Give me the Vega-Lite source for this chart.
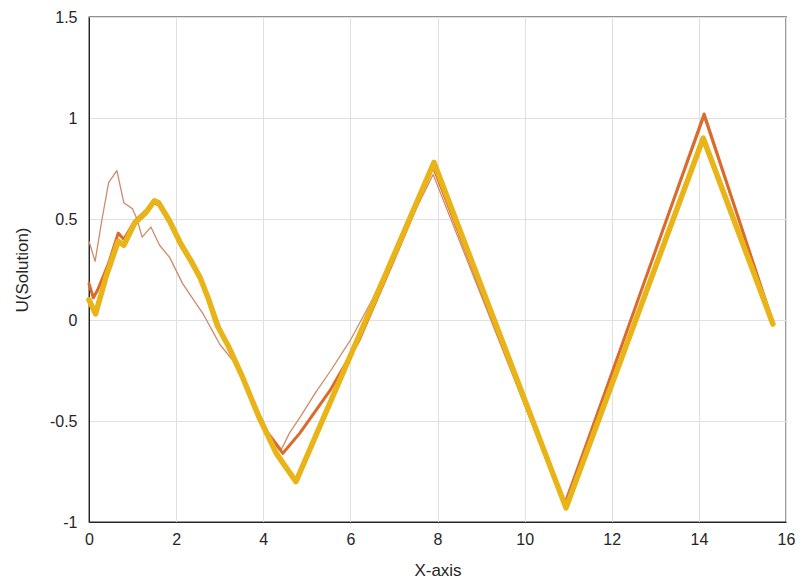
{
  "$schema": "https://vega.github.io/schema/vega-lite/v6.json",
  "width": 697,
  "height": 505,
  "autosize": {"type": "none"},
  "padding": {"left": 89, "top": 17, "right": 17, "bottom": 61},
  "background": "white",
  "config": {
    "font": "Liberation Sans",
    "view": {"stroke": "#262626", "strokeWidth": 1.3},
    "axis": {
      "grid": true,
      "gridColor": "#e0e0e0",
      "gridWidth": 1,
      "domainColor": "#262626",
      "tickColor": "#262626",
      "labelColor": "#262626",
      "titleColor": "#262626",
      "labelFontSize": 16,
      "titleFontSize": 17,
      "titleFontWeight": "normal",
      "tickSize": 0
    }
  },
  "data": {
    "values": [
      {"s": "C", "x": 0, "y": 0.39}, {"s": "C", "x": 0.14, "y": 0.29}, {"s": "C", "x": 0.3, "y": 0.5},
      {"s": "C", "x": 0.45, "y": 0.68}, {"s": "C", "x": 0.64, "y": 0.74}, {"s": "C", "x": 0.8, "y": 0.58},
      {"s": "C", "x": 1.0, "y": 0.55}, {"s": "C", "x": 1.1, "y": 0.5}, {"s": "C", "x": 1.22, "y": 0.41},
      {"s": "C", "x": 1.42, "y": 0.46}, {"s": "C", "x": 1.62, "y": 0.37}, {"s": "C", "x": 1.85, "y": 0.31},
      {"s": "C", "x": 2.15, "y": 0.18}, {"s": "C", "x": 2.4, "y": 0.1}, {"s": "C", "x": 2.62, "y": 0.03},
      {"s": "C", "x": 2.85, "y": -0.06}, {"s": "C", "x": 3.0, "y": -0.12}, {"s": "C", "x": 3.3, "y": -0.2},
      {"s": "C", "x": 3.7, "y": -0.38}, {"s": "C", "x": 4.1, "y": -0.55}, {"s": "C", "x": 4.42, "y": -0.64},
      {"s": "C", "x": 4.6, "y": -0.56}, {"s": "C", "x": 4.85, "y": -0.48}, {"s": "C", "x": 5.2, "y": -0.36},
      {"s": "C", "x": 5.55, "y": -0.25}, {"s": "C", "x": 6.0, "y": -0.1}, {"s": "C", "x": 6.5, "y": 0.1},
      {"s": "C", "x": 7.0, "y": 0.33}, {"s": "C", "x": 7.9, "y": 0.72}, {"s": "C", "x": 10.9, "y": -0.91},
      {"s": "C", "x": 14.12, "y": 1.0}, {"s": "C", "x": 15.68, "y": 0.0},

      {"s": "O", "x": 0, "y": 0.18}, {"s": "O", "x": 0.1, "y": 0.11}, {"s": "O", "x": 0.2, "y": 0.15},
      {"s": "O", "x": 0.45, "y": 0.28}, {"s": "O", "x": 0.67, "y": 0.43}, {"s": "O", "x": 0.8, "y": 0.4},
      {"s": "O", "x": 1.05, "y": 0.49}, {"s": "O", "x": 1.3, "y": 0.54}, {"s": "O", "x": 1.5, "y": 0.58},
      {"s": "O", "x": 1.6, "y": 0.57}, {"s": "O", "x": 1.85, "y": 0.48}, {"s": "O", "x": 2.1, "y": 0.37},
      {"s": "O", "x": 2.35, "y": 0.28}, {"s": "O", "x": 2.6, "y": 0.18}, {"s": "O", "x": 2.8, "y": 0.08},
      {"s": "O", "x": 3.0, "y": -0.04}, {"s": "O", "x": 3.3, "y": -0.17}, {"s": "O", "x": 3.7, "y": -0.37},
      {"s": "O", "x": 4.1, "y": -0.56}, {"s": "O", "x": 4.45, "y": -0.66}, {"s": "O", "x": 4.84, "y": -0.56},
      {"s": "O", "x": 5.53, "y": -0.35}, {"s": "O", "x": 6.2, "y": -0.1}, {"s": "O", "x": 7.0, "y": 0.3},
      {"s": "O", "x": 7.9, "y": 0.76}, {"s": "O", "x": 10.92, "y": -0.92}, {"s": "O", "x": 14.12, "y": 1.02},
      {"s": "O", "x": 15.68, "y": 0.0},

      {"s": "Y", "x": 0, "y": 0.1}, {"s": "Y", "x": 0.15, "y": 0.03}, {"s": "Y", "x": 0.4, "y": 0.22},
      {"s": "Y", "x": 0.67, "y": 0.39}, {"s": "Y", "x": 0.8, "y": 0.37}, {"s": "Y", "x": 1.05, "y": 0.48},
      {"s": "Y", "x": 1.3, "y": 0.53}, {"s": "Y", "x": 1.5, "y": 0.59}, {"s": "Y", "x": 1.6, "y": 0.58},
      {"s": "Y", "x": 1.85, "y": 0.49}, {"s": "Y", "x": 2.1, "y": 0.38}, {"s": "Y", "x": 2.35, "y": 0.29},
      {"s": "Y", "x": 2.55, "y": 0.21}, {"s": "Y", "x": 2.75, "y": 0.1}, {"s": "Y", "x": 2.95, "y": -0.03},
      {"s": "Y", "x": 3.2, "y": -0.13}, {"s": "Y", "x": 3.5, "y": -0.27}, {"s": "Y", "x": 3.9, "y": -0.48},
      {"s": "Y", "x": 4.3, "y": -0.66}, {"s": "Y", "x": 4.75, "y": -0.8}, {"s": "Y", "x": 7.92, "y": 0.78},
      {"s": "Y", "x": 10.95, "y": -0.93}, {"s": "Y", "x": 14.1, "y": 0.9}, {"s": "Y", "x": 15.7, "y": -0.02}
    ]
  },
  "encoding": {
    "x": {
      "field": "x", "type": "quantitative",
      "scale": {"domain": [0, 16], "nice": false},
      "axis": {"values": [0, 2, 4, 6, 8, 10, 12, 14, 16], "title": "X-axis", "labelPadding": 9, "titlePadding": 15, "labelFlush": false}
    },
    "y": {
      "field": "y", "type": "quantitative",
      "scale": {"domain": [-1, 1.5], "nice": false},
      "axis": {"values": [-1, -0.5, 0, 0.5, 1, 1.5], "title": "U(Solution)", "labelPadding": 12, "titlePadding": 18, "labelFlush": false, "labelExpr": "datum.value < 0 ? '-' + format(-datum.value, '~g') : format(datum.value, '~g')"}
    },
    "order": {"field": "x", "type": "quantitative"}
  },
  "layer": [
    {
      "transform": [{"filter": "datum.s === 'C'"}],
      "mark": {"type": "line", "color": "#cf8a6c", "strokeWidth": 1.3, "strokeJoin": "round"}
    },
    {
      "transform": [{"filter": "datum.s === 'O'"}],
      "mark": {"type": "line", "color": "#dc6a2a", "strokeWidth": 3, "strokeJoin": "round", "strokeCap": "round"}
    },
    {
      "transform": [{"filter": "datum.s === 'Y'"}],
      "mark": {"type": "line", "color": "#e8b418", "strokeWidth": 5.5, "strokeJoin": "round", "strokeCap": "round"}
    }
  ]
}
